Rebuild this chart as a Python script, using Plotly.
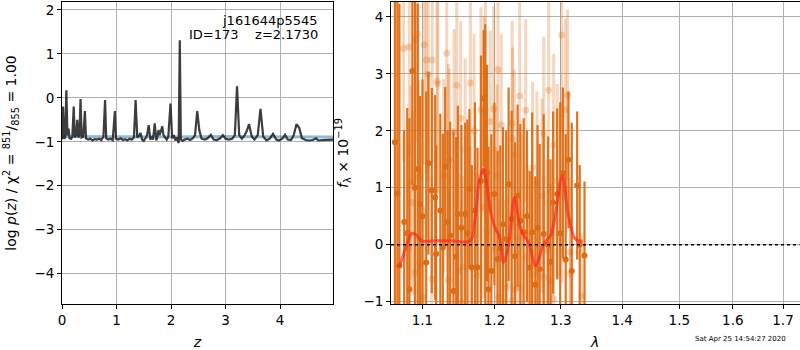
import plotly.graph_objects as go

# ---------------- data: left panel (log p(z)) ----------------
z_grid = [0.00, 0.02, 0.04, 0.06, 0.08, 0.10, 0.12, 0.14, 0.17, 0.19, 0.215, 0.235, 0.26, 0.28, 0.30, 0.32,
          0.34, 0.36, 0.39, 0.42, 0.44, 0.48, 0.52, 0.56, 0.60, 0.64, 0.68, 0.72, 0.76, 0.79, 0.81, 0.85,
          0.89, 0.93, 0.97, 0.99, 1.03, 1.08, 1.12, 1.16, 1.20, 1.24, 1.28, 1.32, 1.35, 1.38, 1.41, 1.44,
          1.47, 1.50, 1.53, 1.56, 1.59, 1.62, 1.65, 1.67, 1.70, 1.73, 1.75, 1.77, 1.79, 1.82, 1.84, 1.86,
          1.89, 1.92, 1.95, 1.99, 2.02, 2.05, 2.08, 2.11, 2.14, 2.16, 2.18, 2.21, 2.25, 2.30, 2.35, 2.40,
          2.44, 2.48, 2.52, 2.56, 2.62, 2.67, 2.73, 2.78, 2.84, 2.90, 2.95, 3.00, 3.06, 3.12, 3.17, 3.21,
          3.25, 3.30, 3.35, 3.39, 3.43, 3.48, 3.53, 3.59, 3.64, 3.69, 3.75, 3.81, 3.87, 3.93, 3.98, 4.04,
          4.09, 4.14, 4.20, 4.25, 4.30, 4.35, 4.40, 4.47, 4.53, 4.60, 4.66, 4.70, 4.78, 4.86, 4.97]
logp = [-0.95, -0.20, -0.93, -0.90, 0.17, -0.85, -0.70, -0.92, -0.93, -0.88, -0.20, -0.90, -0.85, -0.50, -0.90, -0.85,
        -0.03, -0.90, -0.88, -0.30, -0.92, -0.95, -0.93, -0.97, -0.94, -0.95, -0.93, -0.96, -0.88, -0.05, -0.92, -0.95,
        -0.93, -0.96, -0.30, -0.93, -0.95, -0.92, -0.96, -0.94, -0.97, -0.93, -0.95, -0.90, -0.05, -0.90, -0.87, -0.80,
        -0.95, -0.98, -0.92, -0.85, -0.62, -0.95, -0.90, -0.95, -0.58, -0.97, -0.88, -0.73, -0.85, -0.75, -0.65, -0.85,
        -0.90, -0.95, -0.88, -0.13, -0.92, -0.85, -0.97, -0.90, -1.03, 1.31, -0.95, -0.98, -0.95, -0.93, -0.96, -0.92,
        -0.85, -0.30, -0.75, -0.93, -0.95, -0.92, -0.84, -0.95, -0.96, -0.92, -0.85, -0.93, -0.95, -0.93, -0.85, 0.26,
        -0.85, -0.93, -0.85, -0.75, -0.60, -0.88, -0.95, -0.85, -0.25, -0.88, -0.97, -0.93, -0.82, -0.95, -0.97, -0.93,
        -0.84, -0.95, -0.96, -0.85, -0.60, -0.68, -0.92, -0.96, -0.97, -0.96, -0.92, -0.97, -0.96, -0.95, -0.95]
prior_z = [0.0, 1.0, 2.0, 3.0, 4.0, 4.97]
prior_v = [-0.88, -0.89, -0.89, -0.88, -0.89, -0.89]

# ---------------- data: right panel (spectrum) ----------------
dark_lam = [1.0640, 1.0672, 1.0698, 1.0760, 1.0800, 1.0828, 1.0867, 1.0900, 1.0938, 1.0969, 1.1000, 1.1050,
            1.1080, 1.1125, 1.1170, 1.1183, 1.1240, 1.1274, 1.1306, 1.1340, 1.1374, 1.1420, 1.1457, 1.1480,
            1.1530, 1.1582, 1.1614, 1.1642, 1.1676, 1.1720, 1.1756, 1.1805, 1.1843, 1.1866, 1.1891, 1.1914,
            1.1954, 1.1998, 1.2045, 1.2084, 1.2124, 1.2170, 1.2206, 1.2250, 1.2300, 1.2339, 1.2380, 1.2430,
            1.2480, 1.2520, 1.2557, 1.2606, 1.2640, 1.2672, 1.2734, 1.2800, 1.2840, 1.2880, 1.2943, 1.2990,
            1.3032, 1.3077, 1.3120, 1.3173, 1.3259, 1.3300, 1.3377]
dark_f = [1.80, 0.90, -0.37, 0.40, 0.20, -0.78, 3.05, 1.00, 1.33, 0.71, 0.50, -0.31,
          1.43, 0.95, 0.83, -0.16, 0.60, -0.05, 1.37, 0.40, 0.16, -0.81, -0.21, 0.54,
          0.30, 0.54, 0.20, 0.98, -0.40, 0.60, -0.40, 1.12, 2.57, 1.27, 1.26, -0.78,
          -0.46, 0.89, -0.25, -0.06, 0.36, 0.10, 1.06, 0.45, -0.20, 0.86, 0.42, 0.22,
          0.50, -0.40, 0.22, -0.70, 0.30, -0.43, 0.19, 0.00, -0.30, 0.74, 0.89, 0.20,
          1.26, -0.26, 1.49, -0.46, 1.04, 0.00, -0.19]
dark_err = [3.5, 4.0, 4.6, 1.6, 2.2, 3.0, 2.0, 3.4, 2.9, 1.9, 2.4, 3.0,
            1.6, 1.8, 1.8, 1.9, 1.7, 2.0, 1.4, 1.6, 2.0, 2.8, 2.1, 1.9,
            1.8, 1.6, 2.0, 1.4, 1.8, 1.9, 2.1, 2.2, 1.2, 2.6, 1.9, 2.5,
            2.4, 1.6, 1.9, 1.8, 1.7, 1.9, 1.7, 1.9, 2.0, 1.6, 1.7, 2.0,
            1.5, 1.7, 2.1, 1.9, 1.8, 2.2, 2.1, 1.9, 1.8, 1.6, 1.5, 2.3,
            1.5, 2.2, 1.2, 2.6, 1.3, 1.4, 1.3]

light_lam = [1.0754, 1.0825, 1.0916, 1.0938, 1.1022, 1.1050, 1.1076, 1.1130, 1.1196, 1.1206, 1.1327, 1.1361,
             1.1428, 1.1465, 1.1520, 1.1582, 1.1656, 1.1707, 1.1805, 1.1852, 1.1870, 1.1939, 1.1987, 1.2050,
             1.2099, 1.2259, 1.2263, 1.2290, 1.2370, 1.2460, 1.2565, 1.2734, 1.2810, 1.2888, 1.3013, 1.3072,
             1.3108, 1.0903, 1.0945, 1.1014, 1.1124, 1.1286, 1.1350, 1.1488, 1.1530, 1.1555, 1.1652, 1.1749,
             1.1843, 1.1891, 1.2011, 1.2036, 1.2060, 1.2135, 1.2182, 1.2259, 1.2305, 1.2355, 1.2405, 1.2480,
             1.2557, 1.2631, 1.2709, 1.2734, 1.2785, 1.2837, 1.2888, 1.2943, 1.3019, 1.3152, 1.0820, 1.0969,
             1.0847, 1.0870, 1.1350, 1.3150, 1.3330]
light_f = [3.45, 3.47, 3.60, 3.70, 3.51, 3.24, 2.99, 3.24, 2.87, 2.82, 3.36, 1.49,
           1.98, 2.80, 2.22, 1.67, 2.84, 2.00, 2.37, 2.31, 2.37, 2.16, 2.38, 3.07,
           2.10, 2.13, 1.86, 1.58, 2.61, 2.36, 1.36, 1.95, 2.71, 1.75, 3.68, 2.37,
           2.63, -0.49, 1.18, -0.92, -0.60, 1.21, -0.63, -0.46, -1.01, -0.40, 0.04, -0.54,
           0.65, 0.25, -0.08, 1.21, -0.92, -1.01, -0.75, -0.98, -0.78, -0.75, 0.13, -0.22,
           -0.51, 1.09, 0.86, -0.57, -0.10, -0.63, -0.95, 1.12, 0.92, -0.51, -0.05, -0.34,
           1.09, 0.74, 1.47, -0.13, -0.90]
light_err = [2.0, 1.9, 1.8, 1.7, 2.1, 2.0, 1.9, 1.8, 2.0, 1.9, 1.8, 1.6,
             1.8, 1.9, 1.7, 1.6, 1.8, 1.7, 1.8, 1.7, 1.9, 1.6, 1.8, 1.7,
             1.6, 1.8, 1.6, 1.5, 1.7, 1.6, 1.5, 1.7, 1.8, 1.6, 1.7, 1.6,
             1.5, 1.8, 1.7, 1.6, 1.8, 1.7, 1.6, 1.7, 1.8, 1.6, 1.7, 1.8,
             1.6, 1.7, 1.8, 1.6, 1.7, 1.8, 1.6, 1.7, 1.6, 1.7, 1.8, 1.6,
             1.7, 1.6, 1.7, 1.8, 1.6, 1.7, 1.6, 1.7, 1.6, 1.5, 1.8, 1.7,
             1.7, 1.6, 1.7, 1.3, 1.1]

model_lam = [1.0665, 1.0694, 1.0780, 1.0862, 1.0920, 1.0990, 1.1200, 1.1400, 1.1653, 1.1720, 1.1783, 1.1840,
             1.1900, 1.1935, 1.2005, 1.2070, 1.2130, 1.2205, 1.2293, 1.2378, 1.2440, 1.2505, 1.2560, 1.2607,
             1.2660, 1.2710, 1.2780, 1.2839, 1.2917, 1.2995, 1.3030, 1.3104, 1.3150, 1.3211, 1.3280, 1.3350]
model_f = [-0.37, -0.37, -0.05, 0.20, 0.17, 0.07, 0.07, 0.07, 0.07, 0.45, 1.12, 1.33,
           0.95, 0.65, 0.30, 0.15, -0.31, 0.00, 0.83, 0.30, 0.15, 0.04, -0.20, -0.37,
           -0.25, -0.05, 0.08, 0.16, 0.54, 1.12, 1.21, 0.60, 0.37, 0.13, 0.07, 0.07]

z_ticks = [0, 1, 2, 3, 4]
logp_ticks = [-4, -3, -2, -1, 0, 1, 2]
lam_ticks = [1.1, 1.2, 1.3, 1.4, 1.5, 1.6, 1.7]
flux_ticks = [-1, 0, 1, 2, 3, 4]


def lbl(v):
    s = f"{v:g}"
    return s.replace("-", "\u2212")


ORANGE = "rgb(221,108,18)"
ORANGE_L = "rgba(221,108,18,0.28)"
FONT = "DejaVu Sans"
GRID = "#b0b0b0"

fig = go.Figure()

# left panel
fig.add_trace(go.Scatter(x=prior_z, y=prior_v, mode="lines", xaxis="x", yaxis="y",
                         line=dict(color="rgba(31,119,180,0.5)", width=3), showlegend=False,
                         hoverinfo="skip"))
fig.add_trace(go.Scatter(x=z_grid, y=logp, mode="lines", xaxis="x", yaxis="y",
                         line=dict(color="rgba(40,40,40,0.9)", width=2.2), showlegend=False))

# right panel
fig.add_trace(go.Scatter(x=light_lam, y=light_f, mode="markers", xaxis="x2", yaxis="y2",
                         marker=dict(color=ORANGE_L, size=7),
                         error_y=dict(type="data", array=light_err, color=ORANGE_L, thickness=3, width=0),
                         showlegend=False))
fig.add_trace(go.Scatter(x=dark_lam, y=dark_f, mode="markers", xaxis="x2", yaxis="y2",
                         marker=dict(color=ORANGE, size=6),
                         error_y=dict(type="data", array=dark_err, color="rgba(221,108,18,0.95)",
                                      thickness=2.2, width=0),
                         showlegend=False))
fig.add_trace(go.Scatter(x=model_lam, y=model_f, mode="lines", xaxis="x2", yaxis="y2",
                         line=dict(color="rgba(255,40,30,0.7)", width=3, shape="spline"),
                         showlegend=False))

axis_common = dict(showline=True, linecolor="black", linewidth=1, mirror=True,
                   ticks="outside", ticklen=4, tickcolor="black", tickwidth=1,
                   showgrid=True, gridcolor=GRID, gridwidth=1, zeroline=False, automargin=False,
                   tickfont=dict(family=FONT, size=13.5, color="black"))

fig.update_layout(
    width=800, height=350,
    margin=dict(l=0, r=0, t=0, b=0, autoexpand=False),
    paper_bgcolor="white", plot_bgcolor="white",
    font=dict(family=FONT, color="black"),
    xaxis=dict(domain=[62 / 800, 333 / 800], range=[0, 4.97], anchor="y",
               tickvals=z_ticks, ticktext=[lbl(v) for v in z_ticks],
               title=dict(text="<i>z</i>", font=dict(size=14), standoff=9), **axis_common),
    yaxis=dict(domain=[1 - 304 / 350, 1 - 2 / 350], range=[-4.69, 2.18], anchor="x",
               tickvals=logp_ticks, ticktext=[lbl(v) for v in logp_ticks],
               title=dict(text="log <i>p</i>(<i>z</i>) / χ<sup>2</sup> = <sup>851</sup>/<sub>855</sub> = 1.00",
                          font=dict(size=14), standoff=14), **axis_common),
    xaxis2=dict(domain=[391 / 800, 799.5 / 800], type="log", range=[0.0249, 0.2391], anchor="y2",
                tickvals=lam_ticks, ticktext=[f"{v:.1f}" for v in lam_ticks],
                title=dict(text="<i>λ</i>", font=dict(size=14), standoff=9), **axis_common),
    yaxis2=dict(domain=[1 - 304 / 350, 1 - 2 / 350], range=[-1.04, 4.26], anchor="x2",
                tickvals=flux_ticks, ticktext=[lbl(v) for v in flux_ticks],
                title=dict(text="<i>f</i><sub>λ</sub> × 10<sup>−19</sup>", font=dict(size=14), standoff=11),
                **axis_common),
    shapes=[dict(type="line", xref="x2 domain", yref="y2", x0=0, x1=1, y0=0, y1=0,
                 line=dict(color="black", width=1.5, dash="dot"))],
    annotations=[
        dict(text="j161644p5545", xref="paper", yref="paper", x=320 / 800, y=1 - 20 / 350,
             xanchor="right", yanchor="middle", showarrow=False, font=dict(size=13, family=FONT)),
        dict(text="ID=173    z=2.1730", xref="paper", yref="paper", x=320 / 800, y=1 - 35 / 350,
             xanchor="right", yanchor="middle", showarrow=False, font=dict(size=13, family=FONT)),
        dict(text="Sat Apr 25 14:54:27 2020", xref="paper", yref="paper", x=788 / 800, y=1 - 339 / 350,
             xanchor="right", yanchor="middle", showarrow=False, font=dict(size=7, family=FONT)),
    ],
)

fig.write_html("out.html", config={"displayModeBar": False},
               post_script="document.body.style.margin='0';document.body.style.overflow='hidden';")
